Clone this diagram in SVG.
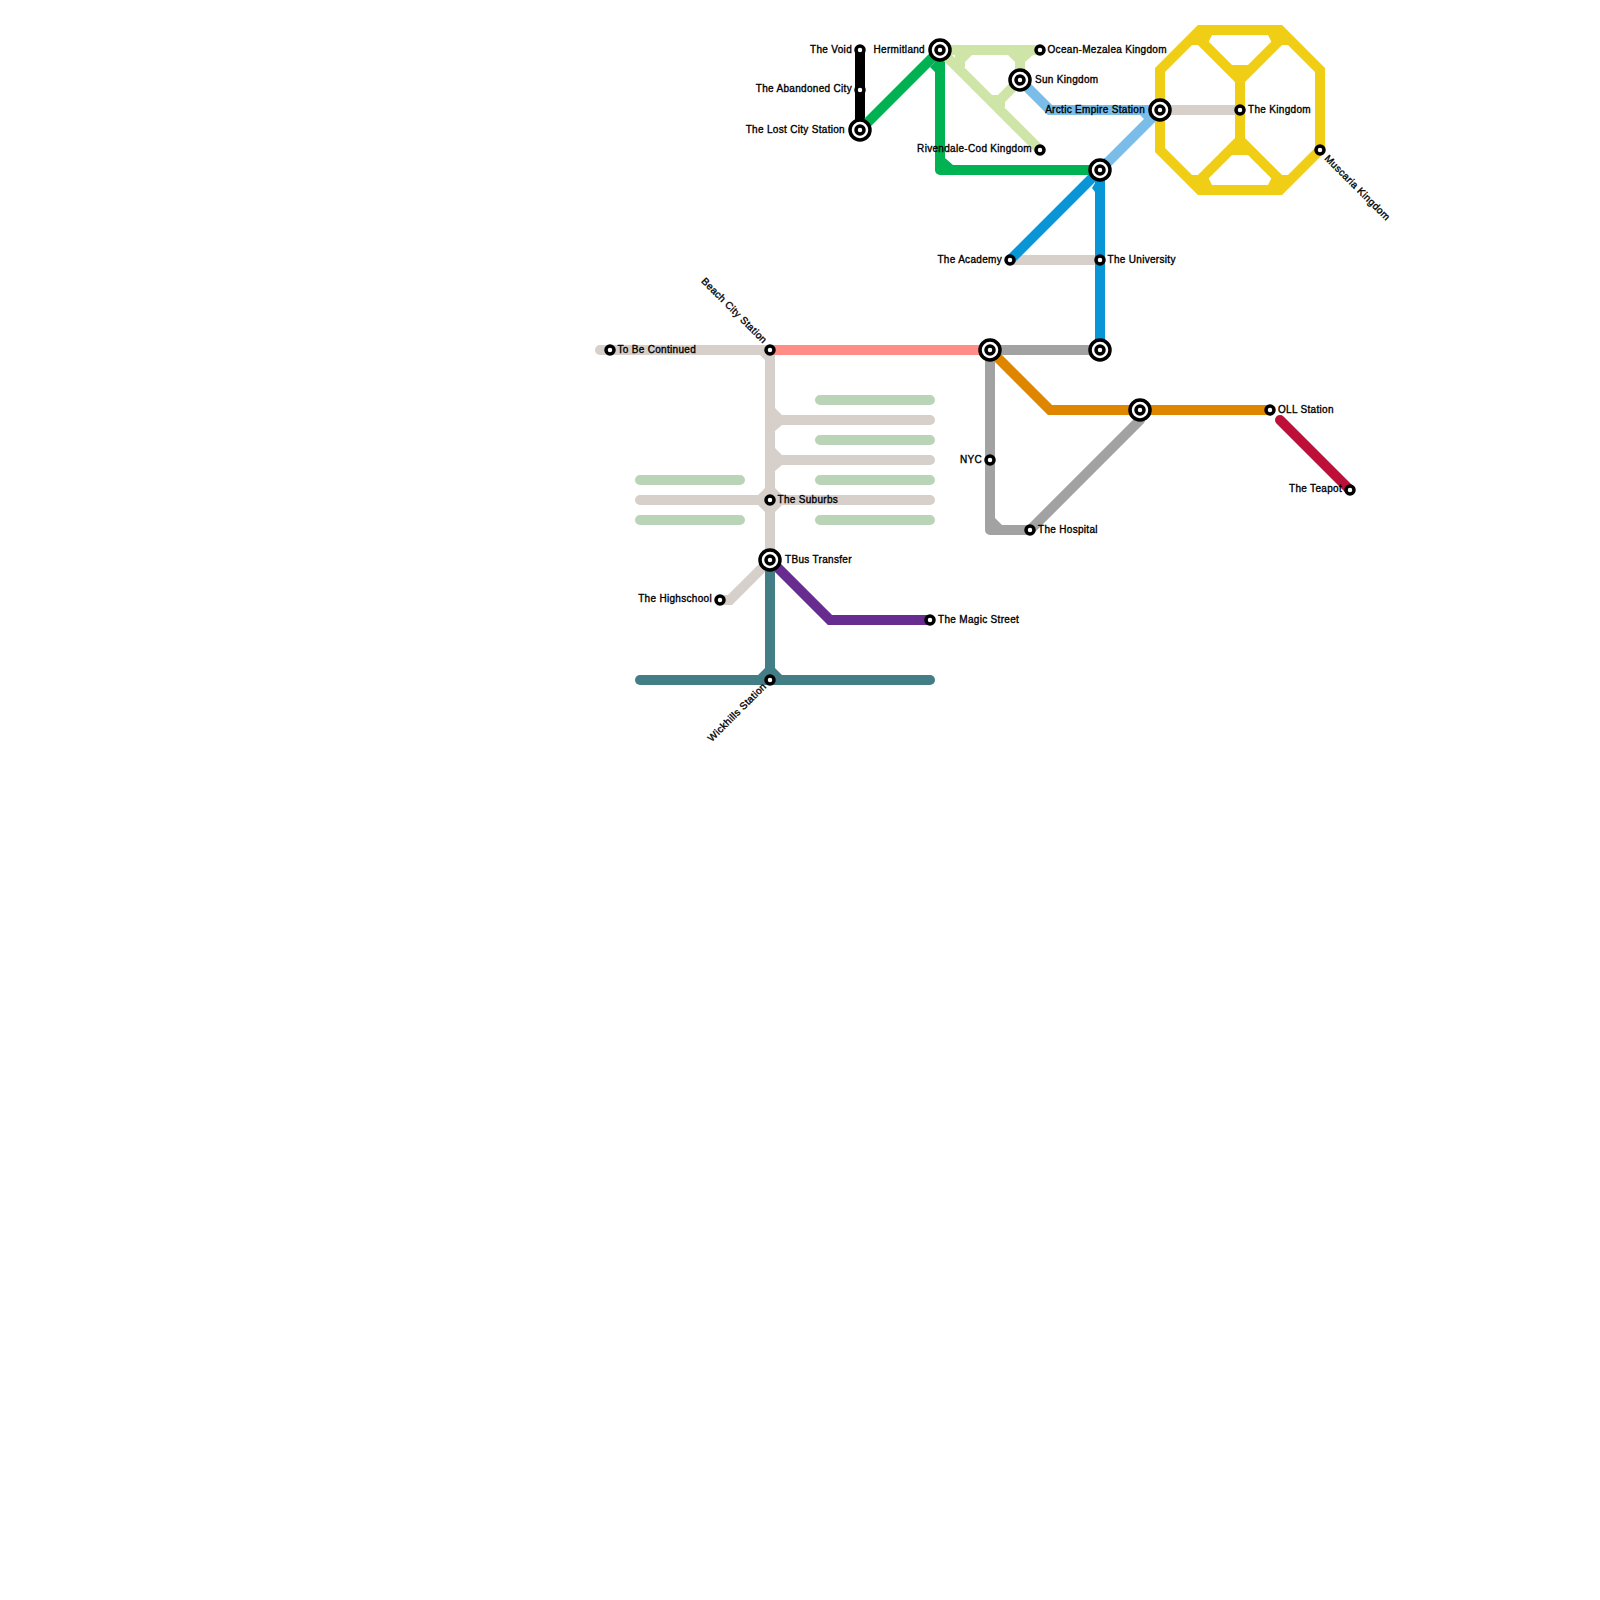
<svg xmlns="http://www.w3.org/2000/svg" width="1600" height="1600" viewBox="0 0 1600 1600">
<style>
.l{fill:none;stroke-width:10;stroke-linejoin:miter}
.r{stroke-linecap:round}
.f{stroke:none}
.s{fill:#fff;stroke:#000;stroke-width:3.5}
.o{fill:#fff;stroke:#000;stroke-width:3.5}
text{font-family:"Liberation Sans",Arial,sans-serif;font-size:10px;font-weight:400;letter-spacing:.31px;fill:#000;stroke:#000;stroke-width:.35px}
.e{text-anchor:end}
</style>
<defs>
<g id="st"><circle class="s" r="4"/></g>
<g id="ix"><circle class="o" r="10"/><circle class="s" r="4"/></g>
</defs>
<rect width="1600" height="1600" fill="#fff"/>
<g id="connectors">
<g stroke="#bad4b8" class="l r"><path d="M820 400H930M820 440H930M820 480H930M820 520H930M640 480H740M640 520H740"/></g>
<g stroke="#d6cfca" class="l r"><path d="M600 350H770M770 350V560M770 420H930M770 460H930M640 500H930M1010 260H1100M1160 110H1240M720 600H730L770 560"/></g>
<g fill="#d6cfca" class="f"><path d="M760 355L765 360V355ZM775 408L782 415H775ZM775 431L782 425H775ZM775 448L782 455H775ZM775 471L782 465H775ZM775 488L782 495H758L765 488ZM775 512L782 505H758L765 512Z"/></g>
<path stroke="#000" class="l" d="M860 50V130"/>
<path stroke="#00b251" class="l" style="stroke-linejoin:round" d="M860 130L940 50V170H1100"/>
<path fill="#00b251" class="f" d="M930 67L935 72V62ZM945 158L953 165H945Z"/>
<path stroke="#cfe4a7" class="l" d="M940 50H1040M1020 50V80M940 50L1040 150M1020 80L995 105"/>
<path fill="#cfe4a7" class="f" d="M972 55L965 62V67L955 67V50H985ZM1008 55L1015 62H1025L1033 55ZM992 95H998L1005 102V107L995 108Z"/>
<path stroke="#7abde8" class="l" d="M1020 80L1050 110H1160M1160 110L1100 170"/>
<path fill="#7abde8" class="f" d="M1140 115L1145 120L1155 115Z"/>
<path stroke="#0896d7" class="l" d="M1010 260L1100 170V350"/>
<path fill="#0896d7" class="f" d="M1092 188L1095 192V183Z"/>
<path stroke="#ff8c86" class="l" d="M770 350H990"/>
<path stroke="#a2a2a2" class="l" style="stroke-linejoin:round" d="M1100 350H990V530H1030L1140 420V410"/>
<path fill="#a2a2a2" class="f" d="M995 518L1002 525H995Z"/>
<path stroke="#df8600" class="l" d="M990 350L1050 410H1270"/>
<path stroke="#bd1038" class="l r" d="M1280 420L1350 490"/>
<path stroke="#662c90" class="l" d="M770 560L830 620H930"/>
<path stroke="#437d85" class="l r" d="M640 680H930"/>
<path stroke="#437d85" class="l" d="M770 560V680"/>
<path fill="#437d85" class="f" d="M758 675L765 668V675ZM782 675L775 668V675Z"/>
<g stroke="#f0ce15">
<path class="l" d="M1200 30H1280L1320 70V150L1280 190H1200L1160 150V70Z"/>
<path class="l" d="M1200 40L1240 80L1280 40M1240 70V150M1200 180L1240 140L1280 180"/>
</g>
<path fill="#f0ce15" class="f" d="M1192 45H1207L1212 35H1190ZM1288 45H1273L1268 35H1290ZM1192 175H1207L1212 185H1190ZM1288 175H1273L1268 185H1290ZM1232 65H1248L1240 82ZM1232 155H1248L1240 138Z"/>
</g>
<g id="n-void"><use href="#st" x="860" y="50"/><text class="e" x="852" y="53">The Void</text></g>
<g id="n-abandoned"><use href="#st" x="860" y="90"/><text class="e" x="852" y="92">The Abandoned City</text></g>
<g id="n-lost"><use href="#ix" x="860" y="130"/><text class="e" x="845" y="133">The Lost City Station</text></g>
<g id="n-hermitland"><use href="#ix" x="940" y="50"/><text class="e" x="925" y="53">Hermitland</text></g>
<g id="n-ocean"><use href="#st" x="1040" y="50"/><text x="1047.5" y="53">Ocean-Mezalea Kingdom</text></g>
<g id="n-sun"><use href="#ix" x="1020" y="80"/><text x="1035" y="83">Sun Kingdom</text></g>
<g id="n-rivendale"><use href="#st" x="1040" y="150"/><text class="e" x="1032" y="152">Rivendale-Cod Kingdom</text></g>
<g id="n-arctic"><use href="#ix" x="1160" y="110"/><text class="e" x="1145" y="113">Arctic Empire Station</text></g>
<g id="n-kingdom"><use href="#st" x="1240" y="110"/><text x="1248" y="113">The Kingdom</text></g>
<g id="n-muscaria"><use href="#st" x="1320" y="150"/><text transform="translate(1324 159) rotate(45)">Muscaria Kingdom</text></g>
<g id="n-junction1"><use href="#ix" x="1100" y="170"/></g>
<g id="n-academy"><use href="#st" x="1010" y="260"/><text class="e" x="1002" y="263">The Academy</text></g>
<g id="n-university"><use href="#st" x="1100" y="260"/><text x="1107.5" y="263">The University</text></g>
<g id="n-junction2"><use href="#ix" x="1100" y="350"/></g>
<g id="n-junction3"><use href="#ix" x="990" y="350"/></g>
<g id="n-nyc"><use href="#st" x="990" y="460"/><text class="e" x="982" y="463">NYC</text></g>
<g id="n-hospital"><use href="#st" x="1030" y="530"/><text x="1038" y="533">The Hospital</text></g>
<g id="n-junction4"><use href="#ix" x="1140" y="410"/></g>
<g id="n-oll"><use href="#st" x="1270" y="410"/><text x="1278" y="413">OLL Station</text></g>
<g id="n-teapot"><use href="#st" x="1350" y="490"/><text class="e" x="1342" y="492">The Teapot</text></g>
<g id="n-beach"><use href="#st" x="770" y="350"/><text class="e" transform="translate(763 344) rotate(45)">Beach City Station</text></g>
<g id="n-continued"><use href="#st" x="610" y="350"/><text x="617.5" y="353">To Be Continued</text></g>
<g id="n-suburbs"><use href="#st" x="770" y="500"/><text x="777.5" y="503">The Suburbs</text></g>
<g id="n-tbus"><use href="#ix" x="770" y="560"/><text x="785" y="563">TBus Transfer</text></g>
<g id="n-highschool"><use href="#st" x="720" y="600"/><text class="e" x="712" y="602">The Highschool</text></g>
<g id="n-magic"><use href="#st" x="930" y="620"/><text x="938" y="623">The Magic Street</text></g>
<g id="n-wickhills"><use href="#st" x="770" y="680"/><text class="e" transform="translate(767 687) rotate(-45)">Wickhills Station</text></g>
</svg>
